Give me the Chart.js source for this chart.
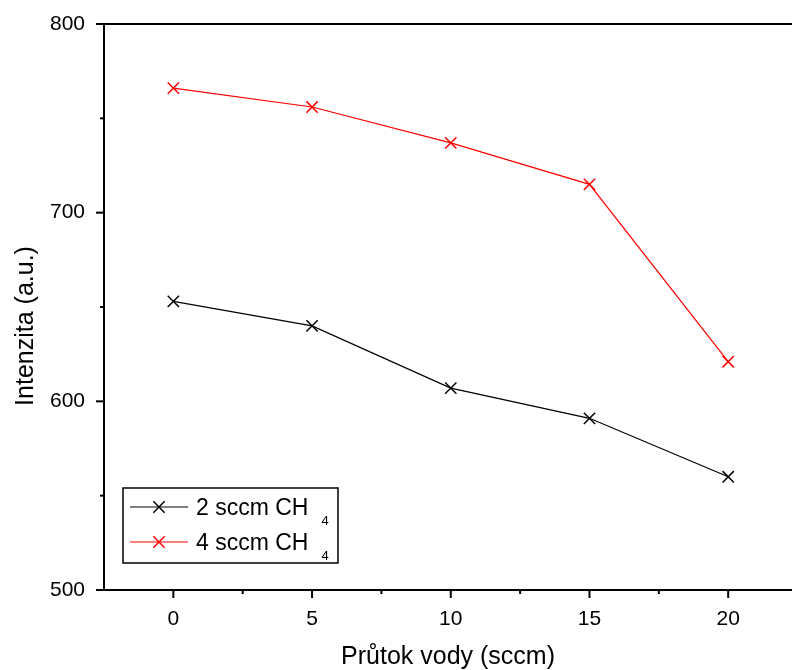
<!DOCTYPE html>
<html>
<head>
<meta charset="utf-8">
<script src="https://cdn.jsdelivr.net/npm/chart.js@4"></script>
<style>
  html, body { margin: 0; padding: 0; background: #fff; overflow: hidden; }
</style>
</head>
<body>
<canvas id="waterChart" width="792" height="670"></canvas>
<script>
// Intenzita vs. prutok vody, two methane flows
const flowRates = [0, 5, 10, 15, 20];
const ch4Low = [653, 640, 607, 591, 560];   // 2 sccm CH4
const ch4High = [766, 756, 737, 715, 621];  // 4 sccm CH4
const xTicks = [0, 5, 10, 15, 20];
const yTicks = [500, 600, 700, 800];
const seriesNames = ['2 sccm CH', '4 sccm CH'];
const seriesSub = ['4', '4'];
const seriesColors = ['#000000', '#ff0000'];

const FONT = '"Liberation Sans", Arial, Helvetica, sans-serif';

function toPoints(values) {
  return flowRates.map((x, i) => ({ x: x, y: values[i] }));
}

// axis ticks (outside), top border, y title, legend box
const frame = {
  id: 'frame',
  afterDraw(chart) {
    const { ctx, chartArea: a, scales: { x, y } } = chart;
    ctx.save();
    ctx.strokeStyle = '#000';
    ctx.lineWidth = 2;
    ctx.beginPath();
    ctx.moveTo(a.left - 1, a.top);
    ctx.lineTo(a.right, a.top);
    ctx.stroke();

    const tick = (px, len, horiz) => {
      ctx.beginPath();
      if (horiz) { ctx.moveTo(px, a.bottom); ctx.lineTo(px, a.bottom + len); }
      else { ctx.moveTo(a.left, px); ctx.lineTo(a.left - len, px); }
      ctx.stroke();
    };
    xTicks.forEach((v, i) => {
      tick(x.getPixelForValue(v), 8, true);
      if (i < xTicks.length - 1) tick(x.getPixelForValue((v + xTicks[i + 1]) / 2), 4, true);
    });
    yTicks.forEach((v, i) => {
      tick(y.getPixelForValue(v), 8, false);
      if (i < yTicks.length - 1) tick(y.getPixelForValue((v + yTicks[i + 1]) / 2), 4, false);
    });

    // y axis title
    ctx.save();
    ctx.translate(26, 326);
    ctx.rotate(-Math.PI / 2);
    ctx.font = '25px ' + FONT;
    ctx.fillStyle = '#000';
    ctx.textAlign = 'center';
    ctx.textBaseline = 'middle';
    ctx.fillText('Intenzita (a.u.)', 0, 0);
    ctx.restore();

    // legend
    ctx.lineWidth = 1.5;
    ctx.strokeRect(123, 488, 215, 75);
    chart.data.datasets.forEach((ds, i) => {
      const cy = 507 + i * 35;
      ctx.strokeStyle = ds.borderColor;
      ctx.lineWidth = 1.2;
      ctx.beginPath();
      ctx.moveTo(130, cy);
      ctx.lineTo(188, cy);
      ctx.stroke();
      ctx.lineWidth = 1.5;
      Chart.helpers.drawPoint(ctx, { pointStyle: 'crossRot', radius: 8, borderWidth: 1.5 }, 159, cy);
      ctx.fillStyle = '#000';
      ctx.textAlign = 'left';
      ctx.textBaseline = 'alphabetic';
      ctx.font = '23px ' + FONT;
      const name = seriesNames[i];
      ctx.fillText(name, 196, cy + 8);
      const w = ctx.measureText(name).width;
      ctx.font = '13px ' + FONT;
      ctx.fillText(seriesSub[i], 196 + w + 13, cy + 18);
    });
    ctx.restore();
  }
};

new Chart(document.getElementById('waterChart'), {
  type: 'line',
  data: {
    datasets: [
      { label: '2 sccm CH4', data: toPoints(ch4Low) },
      { label: '4 sccm CH4', data: toPoints(ch4High) }
    ].map((ds, i) => Object.assign(ds, {
      borderColor: seriesColors[i],
      backgroundColor: seriesColors[i],
      borderWidth: 1.2,
      pointStyle: 'crossRot',
      pointRadius: 8,
      pointBorderWidth: 1.5,
      tension: 0,
      fill: false
    }))
  },
  options: {
    responsive: false,
    animation: false,
    layout: { autoPadding: false, padding: { top: 24, right: 0, left: 0, bottom: 0 } },
    plugins: { legend: { display: false }, tooltip: { enabled: false } },
    scales: {
      x: {
        type: 'linear',
        min: -2.5,
        max: 22.3,
        afterBuildTicks: s => { s.ticks = xTicks.map(v => ({ value: v })); },
        afterFit: s => { s.height = 80; s.paddingLeft = 0; s.paddingRight = 0; },
        grid: { drawOnChartArea: false, drawTicks: true, tickLength: 8, tickColor: 'rgba(0,0,0,0)' },
        border: { color: '#000', width: 2 },
        ticks: { color: '#000', font: { family: FONT, size: 21 }, padding: 9, maxRotation: 0 },
        title: {
          display: true,
          text: 'Průtok vody (sccm)',
          color: '#000',
          font: { family: FONT, size: 25, lineHeight: 1 },
          padding: { top: 0, bottom: 0 }
        }
      },
      y: {
        min: 500,
        max: 800,
        afterBuildTicks: s => { s.ticks = yTicks.map(v => ({ value: v })); },
        afterFit: s => { s.width = 104; s.paddingTop = 0; s.paddingBottom = 0; },
        grid: { drawOnChartArea: false, drawTicks: true, tickLength: 8, tickColor: 'rgba(0,0,0,0)' },
        border: { color: '#000', width: 2 },
        ticks: { color: '#000', font: { family: FONT, size: 21 }, padding: 11 }
      }
    }
  },
  plugins: [frame]
});
</script>
</body>
</html>
